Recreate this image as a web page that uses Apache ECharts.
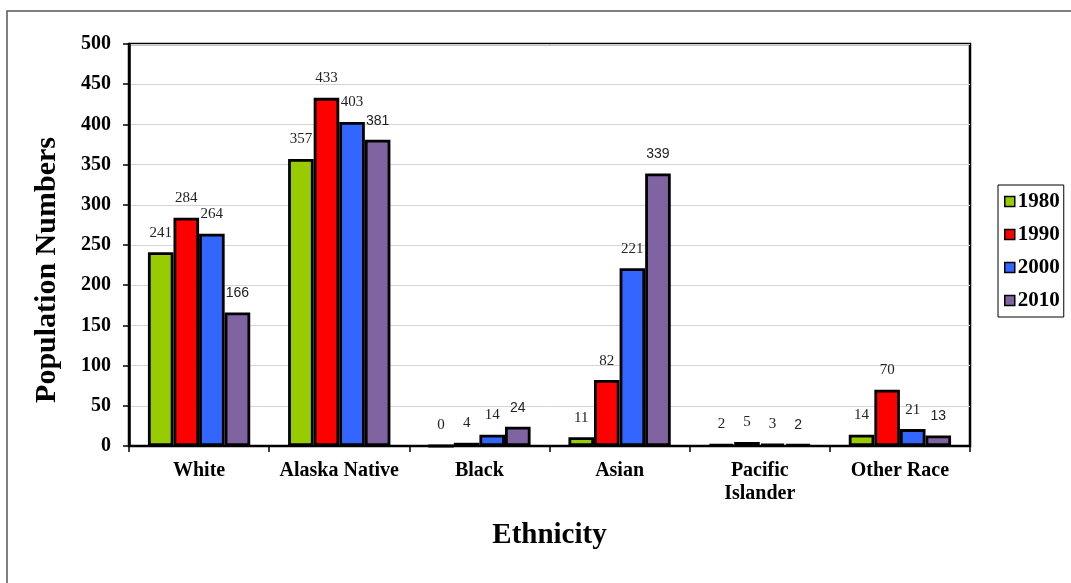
<!DOCTYPE html>
<html>
<head>
<meta charset="utf-8">
<script src="https://cdn.jsdelivr.net/npm/echarts@6/dist/echarts.min.js"></script>
<style>
  html, body { margin: 0; padding: 0; background: #fff; }
  #main { width: 1071px; height: 583px; }
</style>
</head>
<body>
<div id="main"></div>
<script type="text/javascript">
    // ethnicity categories and population per census year
    var categories = ['White', 'Alaska Native', 'Black', 'Asian', 'Pacific\nIslander', 'Other Race'];
    var years = ['1980', '1990', '2000', '2010'];
    var pop1980 = [241, 357, 0, 11, 2, 14];
    var pop1990 = [284, 433, 4, 82, 5, 70];
    var pop2000 = [264, 403, 14, 221, 3, 21];
    var pop2010 = [166, 381, 24, 339, 2, 13];
    var yTicks = [0, 50, 100, 150, 200, 250, 300, 350, 400, 450, 500];

    var serif = '"Liberation Serif", "Times New Roman", serif';
    var sans = '"Liberation Sans", Arial, sans-serif';
    var colors = ['#99cc00', '#ff0000', '#3366ff', '#8064a2'];

    function barSeries(name, data, color, labelFont) {
        return {
            name: name,
            type: 'bar',
            data: data,
            barGap: 0,
            barCategoryGap: '27%',
            itemStyle: { color: color, borderColor: '#000', borderWidth: 2.8 },
            label: {
                show: true,
                position: 'top',
                distance: 12,
                color: '#222',
                fontFamily: labelFont,
                fontSize: labelFont === sans ? 14 : 15
            }
        };
    }

    var option = {
        animation: false,
        backgroundColor: '#fff',
        grid: {
            left: 129, top: 44, right: 101, bottom: 137,
            show: true,
            borderColor: '#000',
            borderWidth: 2.5
        },
        legend: {
            data: years,
            orient: 'vertical',
            left: 998,
            top: 185,
            padding: [6, 4, 6, 6],
            itemGap: 12,
            itemWidth: 10,
            itemHeight: 10,
            icon: 'rect',
            selectedMode: false,
            borderColor: '#000',
            borderWidth: 1,
            itemStyle: { borderColor: '#000', borderWidth: 1.5 },
            textStyle: { fontFamily: serif, fontWeight: 'bold', fontSize: 21, color: '#000', padding: [0, 0, 0, -2] }
        },
        xAxis: {
            type: 'category',
            data: categories,
            name: 'Ethnicity',
            nameLocation: 'middle',
            nameGap: 75,
            nameTextStyle: { fontFamily: serif, fontWeight: 'bold', fontSize: 29, color: '#000' },
            axisLine: { lineStyle: { color: '#000', width: 2 } },
            axisTick: { show: true, length: 6, lineStyle: { color: '#000', width: 1.5 } },
            axisLabel: {
                margin: 13,
                interval: 0,
                fontFamily: serif,
                fontWeight: 'bold',
                fontSize: 20,
                lineHeight: 23,
                color: '#000'
            }
        },
        yAxis: {
            type: 'value',
            min: yTicks[0],
            max: yTicks[yTicks.length - 1],
            interval: 50,
            axisLine: { show: true, lineStyle: { color: '#000', width: 2.5 } },
            axisTick: { show: true, length: 6, lineStyle: { color: '#000', width: 1.5 } },
            splitLine: { lineStyle: { color: '#d4d4d4', width: 1 } },
            axisLabel: {
                margin: 18,
                fontFamily: serif,
                fontWeight: 'bold',
                fontSize: 20,
                color: '#000'
            }
        },
        graphic: [
            {
                type: 'rect',
                shape: { x: 7, y: 11, width: 1200, height: 800 },
                style: { fill: 'none', stroke: '#555', lineWidth: 1.5 },
                silent: true
            },
            {
                type: 'text',
                x: 47,
                y: 270,
                rotation: Math.PI / 2,
                style: {
                    text: 'Population Numbers',
                    fontFamily: serif,
                    fontWeight: 'bold',
                    fontSize: 30,
                    fill: '#000',
                    textAlign: 'center',
                    textVerticalAlign: 'middle'
                }
            }
        ],
        series: [
            barSeries(years[0], pop1980, colors[0], serif),
            barSeries(years[1], pop1990, colors[1], serif),
            barSeries(years[2], pop2000, colors[2], serif),
            barSeries(years[3], pop2010, colors[3], sans)
        ]
    };

    var chart = echarts.init(document.getElementById('main'));
    chart.setOption(option);
</script>
</body>
</html>
